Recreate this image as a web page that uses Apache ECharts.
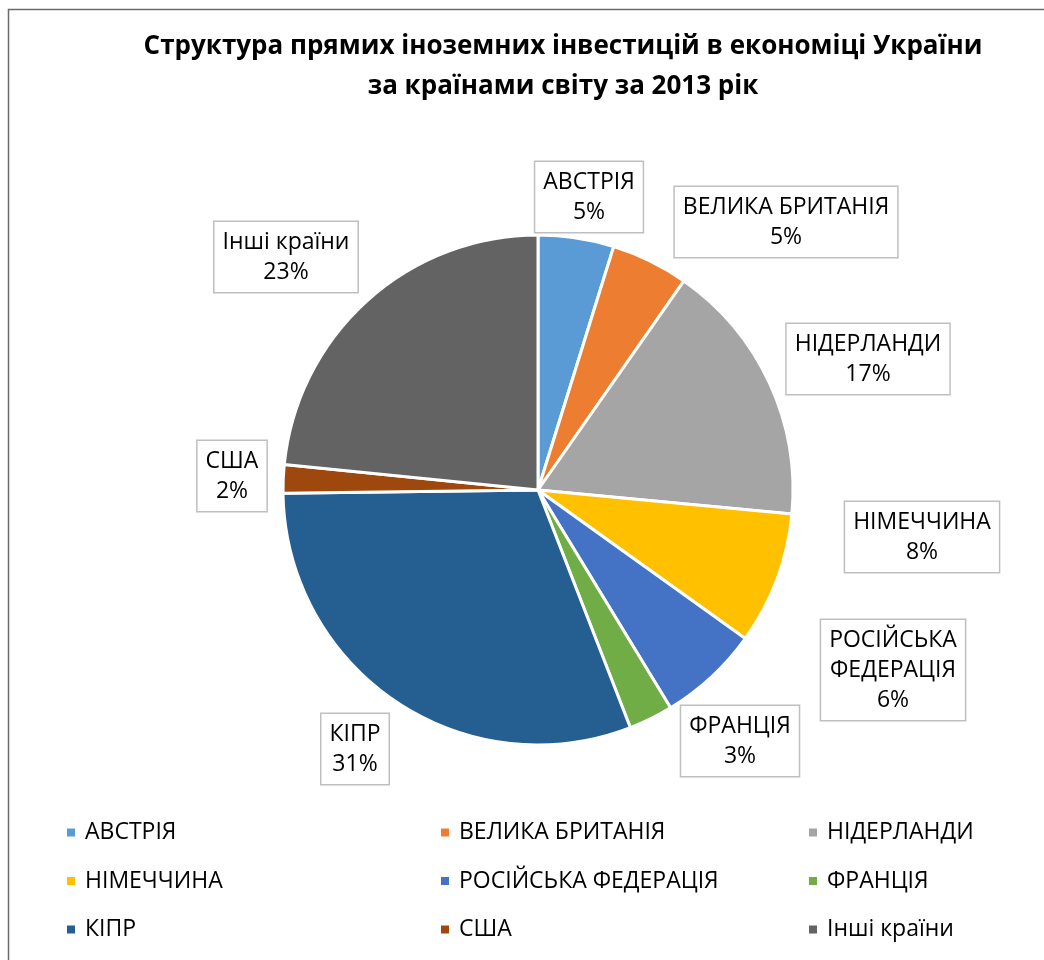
<!DOCTYPE html>
<html>
<head>
<meta charset="utf-8">
<script src="https://cdn.jsdelivr.net/npm/echarts@6/dist/echarts.min.js"></script>
<style>
  html, body { margin: 0; padding: 0; background: #fff; }
  #chart { width: 1044px; height: 960px; }
</style>
</head>
<body>
<div id="chart"></div>
<script>
// країни (за годинниковою стрілкою від 12 години)
var countries = ['АВСТРІЯ', 'ВЕЛИКА БРИТАНІЯ', 'НІДЕРЛАНДИ', 'НІМЕЧЧИНА',
  'РОСІЙСЬКА ФЕДЕРАЦІЯ', 'ФРАНЦІЯ', 'КІПР', 'США', 'Інші країни']
// частка, %
var shares = [4.8, 4.9, 16.8, 8.4, 6.4, 2.8, 30.7, 1.8, 23.4]
var colors = ['#5B9BD5', '#ED7D31', '#A5A5A5', '#FFC000', '#4472C4',
  '#70AD47', '#255E91', '#9E480E', '#636363']
// підписи з переносом рядка
var labelNames = ['АВСТРІЯ', 'ВЕЛИКА БРИТАНІЯ', 'НІДЕРЛАНДИ', 'НІМЕЧЧИНА',
  'РОСІЙСЬКА\nФЕДЕРАЦІЯ', 'ФРАНЦІЯ', 'КІПР', 'США', 'Інші країни']

var font = '"Open Sans", "Noto Sans", sans-serif'
var cx = 538, cy = 490
// зсув центру рамки підпису від центру кола (як у Excel "best fit")
var labelOffset = [[51, -293], [248, -268], [330, -131], [384, 47], [355, 180],
  [202, 251], [-183, 259], [-306, -14], [-252, -233]]

var chart = echarts.init(document.getElementById('chart'))

var pieData = []
for (var i = 0; i < countries.length; i++) {
  pieData.push({ name: countries[i], value: shares[i], itemStyle: { color: colors[i] } })
}

function legendCol(names, left) {
  return {
    orient: 'vertical',
    left: left,
    top: 815,
    data: names,
    icon: 'rect',
    itemWidth: 10,
    itemHeight: 10,
    itemGap: 23.5,
    textStyle: { fontFamily: font, fontSize: 23, color: '#000', lineHeight: 25, padding: [0, 0, 0, 4] }
  }
}

chart.setOption({
  animation: false,
  title: {
    text: 'Структура прямих іноземних інвестицій в економіці України\nза країнами світу за 2013 рік',
    left: 558,
    top: 22,
    textAlign: 'center',
    textStyle: { fontFamily: font, fontSize: 26, fontWeight: 'bold', color: '#000', lineHeight: 40 }
  },
  graphic: [{
    type: 'rect',
    shape: { x: 8.5, y: 9.5, width: 1100, height: 1000 },
    style: { fill: 'none', stroke: '#6b6b6b', lineWidth: 1.5 }
  }],
  legend: [
    legendCol(['АВСТРІЯ', 'НІМЕЧЧИНА', 'КІПР'], 60),
    legendCol(['ВЕЛИКА БРИТАНІЯ', 'РОСІЙСЬКА ФЕДЕРАЦІЯ', 'США'], 434),
    legendCol(['НІДЕРЛАНДИ', 'ФРАНЦІЯ', 'Інші країни'], 802)
  ],
  series: [{
    type: 'pie',
    center: [cx, cy],
    radius: [0, 255],
    startAngle: 90,
    clockwise: true,
    percentPrecision: 0,
    data: pieData,
    itemStyle: { borderColor: '#fff', borderWidth: 3 },
    label: {
      show: true,
      position: 'outside',
      formatter: function (p) { return labelNames[p.dataIndex] + '\n' + p.percent + '%' },
      fontFamily: font,
      fontSize: 23,
      lineHeight: 30,
      color: '#000',
      backgroundColor: '#fff',
      borderColor: '#BFBFBF',
      borderWidth: 1.5,
      padding: [5, 8, 5, 8]
    },
    labelLine: { show: false },
    labelLayout: function (p) {
      var o = labelOffset[p.dataIndex]
      return { x: cx + o[0], y: cy + o[1], align: 'center', verticalAlign: 'middle', hideOverlap: false }
    }
  }]
})
</script>
</body>
</html>
